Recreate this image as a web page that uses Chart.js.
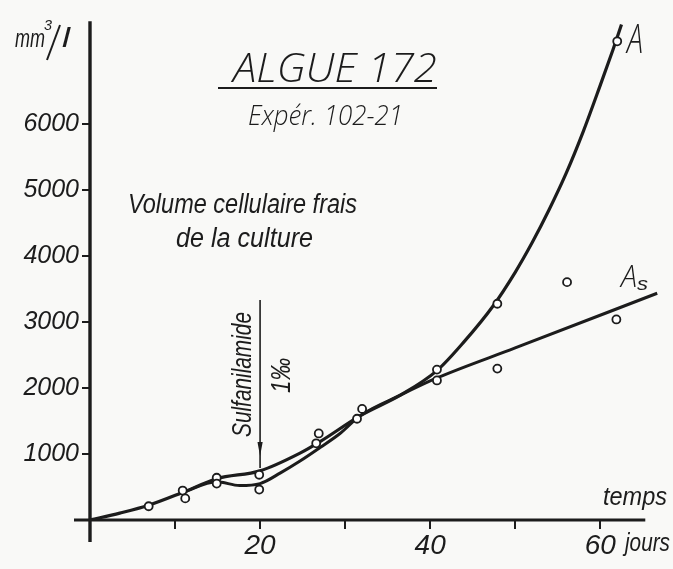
<!DOCTYPE html>
<html>
<head>
<meta charset="utf-8">
<script src="https://cdn.jsdelivr.net/npm/chart.js@4.4.1/dist/chart.umd.min.js"></script>
<style>
  html, body { margin: 0; padding: 0; background: #f9f9f7; }
  canvas { display: block; }
</style>
</head>
<body>
<canvas id="c" width="673" height="569"></canvas>
<script>
// ---- Data ----
// measured points (days, mm3/l)
const obsDays = [6.9, 10.9, 11.2, 14.9, 14.9, 19.9, 19.9, 26.6, 26.9, 31.4, 32.0, 40.8, 40.8, 47.9, 47.9, 56.1, 61.9, 62.0];
const obsVol  = [208, 446, 327, 640, 551, 685, 461, 1161, 1310, 1533, 1682, 2113, 2277, 3274, 2292, 3601, 3036, 7247];

// curve A (control culture)
const curveADays = [0, 3.5, 6.9, 10.9, 14.9, 20, 24.7, 27.1, 31.8, 36.5, 40.8, 44, 47.4, 50, 52, 54, 56, 58, 60, 61.5, 62.5];
const curveAVol  = [0, 104, 223, 417, 625, 744, 1012, 1190, 1580, 1890, 2262, 2700, 3240, 3750, 4200, 4700, 5250, 5880, 6580, 7120, 7500];

// curve As (with sulfanilamide)
const curveAsDays = [10.9, 14.9, 17.6, 20, 22.4, 24.7, 27.1, 29.4, 31.8, 36.5, 40.8, 50, 66.7];
const curveAsVol  = [417, 580, 521, 551, 714, 893, 1101, 1310, 1580, 1890, 2150, 2605, 3433];

// tick values and labels
const xTickValues = [10, 20, 30, 40, 50, 60];
const xTickLabels = ['', '20', '', '40', '', '60'];
const yTickValues = [1000, 2000, 3000, 4000, 5000, 6000];
const yTickLabels = ['1000', '2000', '3000', '4000', '5000', '6000'];

const INK = '#1c1c1c';
const FAM = '"Liberation Sans", "DejaVu Sans", sans-serif';
const THIN = '"Open Sans", "DejaVu Sans", sans-serif';

const toXY = (xs, ys) => xs.map((x, i) => ({ x: x, y: ys[i] }));

function fitText(ctx, str, x, y, size, width, opts) {
  opts = opts || {};
  ctx.save();
  ctx.font = 'italic ' + (opts.weight || 'normal') + ' ' + size + 'px ' + (opts.family || FAM);
  ctx.fillStyle = INK;
  ctx.textBaseline = 'alphabetic';
  ctx.textAlign = 'left';
  const w = ctx.measureText(str).width;
  ctx.translate(x, y);
  if (opts.angle) ctx.rotate(opts.angle);
  ctx.scale(width / w, 1);
  ctx.fillText(str, 0, 0);
  ctx.restore();
}

const paperPlugin = {
  id: 'paper',
  beforeDraw(chart) {
    const ctx = chart.ctx;
    ctx.save();
    ctx.fillStyle = '#f9f9f7';
    ctx.fillRect(0, 0, chart.width, chart.height);
    ctx.restore();
  },
  beforeDatasetsDraw(chart) {
    const ctx = chart.ctx;
    const xs = chart.scales.x, ys = chart.scales.y;
    const x0 = xs.getPixelForValue(0), y0 = ys.getPixelForValue(0);
    ctx.save();
    ctx.strokeStyle = INK;
    ctx.lineCap = 'butt';
    ctx.lineWidth = 3.4;
    ctx.beginPath();
    ctx.moveTo(x0, y0 + 22);
    ctx.lineTo(x0, ys.getPixelForValue(7550));
    ctx.stroke();
    ctx.lineWidth = 3;
    ctx.beginPath();
    ctx.moveTo(x0 - 16, y0);
    ctx.lineTo(xs.getPixelForValue(65.3), y0);
    ctx.stroke();
    ctx.restore();
  },
  afterDraw(chart) {
    const ctx = chart.ctx;
    const xs = chart.scales.x;
    // title
    fitText(ctx, 'ALGUE 172', 233, 82, 41, 204, { weight: '300', family: THIN });
    ctx.save();
    ctx.strokeStyle = INK;
    ctx.lineWidth = 2.2;
    ctx.beginPath();
    ctx.moveTo(218, 88);
    ctx.lineTo(437, 88);
    ctx.stroke();
    ctx.restore();
    fitText(ctx, 'Expér. 102-21', 248, 125, 27, 155, { weight: '300', family: THIN });
    fitText(ctx, 'Volume cellulaire frais', 128, 213, 27, 229);
    fitText(ctx, 'de la culture', 176, 247, 27, 137);

    // unit label mm3/l
    fitText(ctx, 'mm', 15, 47, 26, 30);
    fitText(ctx, '3', 44, 30, 14, 8);
    ctx.save();
    ctx.strokeStyle = INK;
    ctx.lineWidth = 2;
    ctx.beginPath();
    ctx.moveTo(47, 60);
    ctx.lineTo(60, 25);
    ctx.stroke();
    ctx.restore();
    fitText(ctx, 'l', 62, 47, 27, 8);

    // axis words
    fitText(ctx, 'temps', 603, 505, 25, 64);
    fitText(ctx, 'jours', 625, 551, 25, 45);

    // curve labels
    fitText(ctx, 'A', 627, 53, 40, 16, { weight: '300', family: THIN });
    fitText(ctx, 'A', 621, 287, 32, 16, { weight: '300', family: THIN });
    fitText(ctx, 's', 637, 290, 18, 11);

    // sulfanilamide arrow
    const ax = xs.getPixelForValue(20);
    ctx.save();
    ctx.strokeStyle = INK;
    ctx.fillStyle = INK;
    ctx.lineWidth = 1.6;
    ctx.beginPath();
    ctx.moveTo(ax, 300);
    ctx.lineTo(ax, 468);
    ctx.stroke();
    ctx.beginPath();
    ctx.moveTo(ax - 2.6, 442);
    ctx.lineTo(ax + 2.6, 442);
    ctx.lineTo(ax, 456);
    ctx.closePath();
    ctx.fill();
    ctx.restore();
    fitText(ctx, 'Sulfanilamide', 251, 437, 27, 125, { angle: -Math.PI / 2 });
    fitText(ctx, '1‰', 290, 393, 27, 35, { angle: -Math.PI / 2 });
  }
};

const tickFontY = { family: FAM, size: 25, style: 'italic' };
const tickFontX = { family: FAM, size: 28, style: 'italic' };

new Chart(document.getElementById('c'), {
  type: 'scatter',
  data: {
    datasets: [
      {
        label: 'mesures',
        data: toXY(obsDays, obsVol),
        showLine: false,
        pointRadius: 4,
        pointBackgroundColor: '#ffffff',
        pointBorderColor: INK,
        pointBorderWidth: 1.8,
        order: 0
      },
      {
        label: 'A',
        data: toXY(curveADays, curveAVol),
        showLine: true,
        borderColor: INK,
        borderWidth: 3.2,
        pointRadius: 0,
        cubicInterpolationMode: 'monotone',
        order: 1
      },
      {
        label: 'As',
        data: toXY(curveAsDays, curveAsVol),
        showLine: true,
        borderColor: INK,
        borderWidth: 3,
        pointRadius: 0,
        cubicInterpolationMode: 'monotone',
        order: 2
      }
    ]
  },
  options: {
    responsive: false,
    animation: false,
    devicePixelRatio: 1,
    layout: { padding: { left: 0, right: 9, top: 9, bottom: 0 } },
    plugins: { legend: { display: false }, tooltip: { enabled: false } },
    scales: {
      x: {
        type: 'linear',
        min: 0,
        max: 67.5,
        afterBuildTicks: s => { s.ticks = xTickValues.map(v => ({ value: v })); },
        afterFit: s => { s.height = 49; },
        ticks: {
          autoSkip: false,
          maxRotation: 0,
          padding: 0,
          color: INK,
          font: tickFontX,
          callback: v => { const i = xTickValues.indexOf(v); return i >= 0 ? xTickLabels[i] : ''; }
        },
        grid: { drawOnChartArea: false, drawTicks: true, tickLength: 9, color: INK, lineWidth: 2 },
        border: { display: false }
      },
      y: {
        type: 'linear',
        min: 0,
        max: 7600,
        afterBuildTicks: s => { s.ticks = yTickValues.map(v => ({ value: v })); },
        afterFit: s => { s.width = 90; },
        ticks: {
          autoSkip: false,
          padding: 3,
          color: INK,
          font: tickFontY,
          callback: v => { const i = yTickValues.indexOf(v); return i >= 0 ? yTickLabels[i] : ''; }
        },
        grid: { drawOnChartArea: false, drawTicks: true, tickLength: 8, color: INK, lineWidth: 2 },
        border: { display: false }
      }
    }
  },
  plugins: [paperPlugin]
});
</script>
</body>
</html>
